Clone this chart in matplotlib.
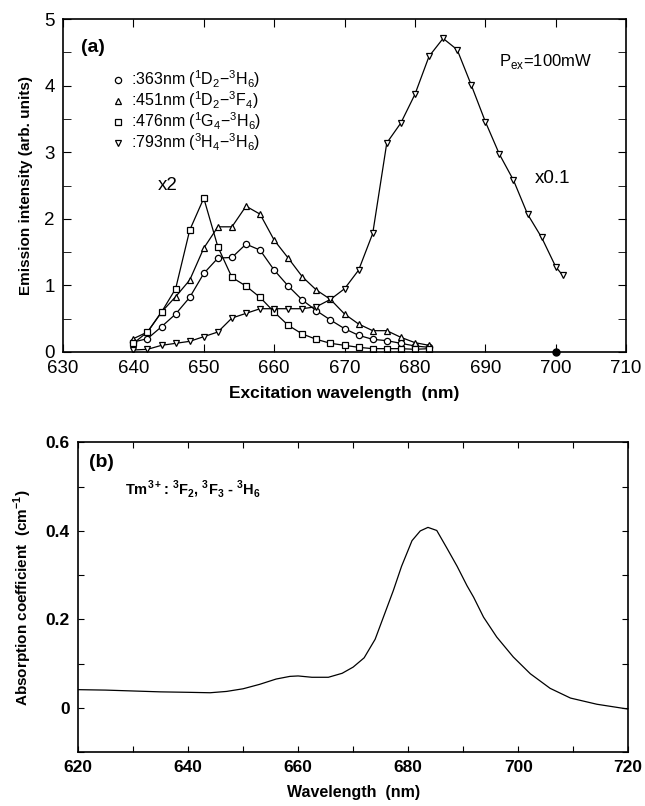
import numpy as np
import matplotlib
matplotlib.use("Agg")
import matplotlib.pyplot as plt
from matplotlib.ticker import MultipleLocator, FixedLocator

plt.rcParams['font.family'] = ['Liberation Sans', 'DejaVu Sans']
plt.rcParams['mathtext.fontset'] = 'custom'
plt.rcParams['mathtext.rm'] = 'Liberation Sans'
plt.rcParams['mathtext.bf'] = 'Liberation Sans:bold'

# (a) excitation spectra
wl_vis = [640, 642, 644, 646, 648, 650, 652, 654, 656, 658, 660,
          662, 664, 666, 668, 670, 672, 674, 676, 678, 680, 682]
em_363 = [0.15, 0.20, 0.38, 0.57, 0.82, 1.18, 1.41, 1.42, 1.62, 1.53, 1.23,
          0.99, 0.78, 0.62, 0.48, 0.35, 0.25, 0.19, 0.17, 0.13, 0.09, 0.07]
em_451 = [0.20, 0.30, 0.60, 0.83, 1.08, 1.56, 1.88, 1.88, 2.19, 2.07, 1.68,
          1.41, 1.13, 0.93, 0.79, 0.57, 0.42, 0.32, 0.32, 0.22, 0.14, 0.10]
em_476 = [0.13, 0.30, 0.60, 0.95, 1.83, 2.31, 1.58, 1.12, 0.99, 0.82, 0.60,
          0.40, 0.27, 0.19, 0.13, 0.10, 0.07, 0.05, 0.05, 0.05, 0.04, 0.05]
wl_ir = [640, 642, 644, 646, 648, 650, 652, 654, 656, 658, 660, 662, 664,
         666, 668, 670, 672, 674, 676, 678, 680, 682, 684, 686, 688, 690,
         692, 694, 696, 698, 700, 701]
em_793 = [0.03, 0.04, 0.10, 0.13, 0.16, 0.23, 0.30, 0.51, 0.58, 0.65, 0.65,
          0.65, 0.65, 0.68, 0.79, 0.95, 1.23, 1.78, 3.14, 3.44, 3.87, 4.44,
          4.71, 4.54, 4.01, 3.46, 2.97, 2.58, 2.07, 1.72, 1.28, 1.15]
dot_x = [700]
dot_y = [0.0]

# (b) absorption spectrum
wl_abs = [620, 625, 630, 635, 640, 644, 647, 650, 653, 656, 658.5, 660,
          662.5, 665.5, 668, 670, 672, 674, 675.5, 677.3, 678.8, 680.7,
          682.2, 683.6, 685.2, 687, 688.9, 690.7, 691.9, 693.7, 696.1,
          699.1, 702.2, 705.8, 709.5, 714.3, 720]
absorb = [0.041, 0.040, 0.038, 0.036, 0.035, 0.034, 0.037, 0.043, 0.053,
          0.065, 0.071, 0.072, 0.069, 0.069, 0.078, 0.092, 0.113, 0.155,
          0.205, 0.265, 0.320, 0.378, 0.400, 0.408, 0.401, 0.362, 0.320,
          0.276, 0.250, 0.205, 0.160, 0.115, 0.077, 0.044, 0.022, 0.008,
          -0.003]

labels_a = [r':363nm ($^1$D$_2$$-$$^3$H$_6$)',
            r':451nm ($^1$D$_2$$-$$^3$F$_4$)',
            r':476nm ($^1$G$_4$$-$$^3$H$_6$)',
            r':793nm ($^3$H$_4$$-$$^3$H$_6$)']

fig = plt.figure(figsize=(6.45, 8.06), dpi=100)
ax1 = fig.add_axes([0.0977, 0.5633, 0.873, 0.413])
ax2 = fig.add_axes([0.121, 0.067, 0.853, 0.384])

mk = dict(color='black', lw=0.9, mfc='white', mec='black', mew=0.9, ms=4.5)
ax1.plot(wl_vis, em_363, marker='o', label=labels_a[0], **mk)
ax1.plot(wl_vis, em_451, marker='^', label=labels_a[1], **mk)
ax1.plot(wl_vis, em_476, marker='s', label=labels_a[2], **dict(mk, ms=4))
ax1.plot(wl_ir, em_793, marker='v', label=labels_a[3], **mk)
ax1.plot(dot_x, dot_y, 'o', color='black', ms=5, clip_on=False)

ax1.set_xlim(630, 710)
ax1.set_ylim(0, 5)
ax1.xaxis.set_major_locator(MultipleLocator(10))
ax1.yaxis.set_major_locator(MultipleLocator(1))
ax1.yaxis.set_minor_locator(MultipleLocator(0.5))
ax1.tick_params(which='both', direction='in', top=True, right=True,
                labelsize=13.5, pad=6)
ax1.tick_params(which='major', length=6)
ax1.tick_params(which='minor', length=6)
ax1.set_xlabel('Excitation wavelength  (nm)', fontsize=12.5,
               fontweight='bold', labelpad=6)
ax1.set_ylabel('Emission intensity (arb. units)', fontsize=11,
               fontweight='bold', labelpad=8)

ax1.text(632.5, 4.58, '(a)', fontsize=14, fontweight='bold', va='center')
ax1.text(691.9, 4.36, r'P$_{\rm ex}$=100mW', fontsize=12, va='center')
ax1.text(643.5, 2.5, 'x2', fontsize=13.5, va='center')
ax1.text(697.0, 2.6, 'x0.1', fontsize=13.5, va='center')

leg = ax1.legend(loc='upper left', bbox_to_anchor=(0.078, 0.87),
                 frameon=False, fontsize=11.5, handlelength=0.6,
                 handletextpad=0.5, labelspacing=-0.05, borderaxespad=0,
                 markerscale=1.0)
for h in leg.legend_handles:
    h.set_linestyle('None')

# (b)
ax2.plot(wl_abs, absorb, color='black', lw=0.9)
ax2.set_xlim(620, 720)
ax2.set_ylim(-0.1, 0.6)
ax2.xaxis.set_major_locator(MultipleLocator(20))
ax2.xaxis.set_minor_locator(MultipleLocator(10))
ax2.yaxis.set_major_locator(FixedLocator([0, 0.2, 0.4, 0.6]))
ax2.yaxis.set_minor_locator(MultipleLocator(0.1))
ax2.yaxis.set_major_formatter(plt.FuncFormatter(
    lambda v, p: '0' if abs(v) < 1e-9 else f'{v:.1f}'))
ax2.tick_params(which='both', direction='in', top=True, right=True,
                length=4, width=0.8, labelsize=12.5, pad=6)
for lab in ax2.get_xticklabels() + ax2.get_yticklabels():
    lab.set_fontweight('bold')
ax2.set_xlabel('Wavelength  (nm)', fontsize=11.5, fontweight='bold',
               labelpad=7)
ax2.set_ylabel(r'Absorption coefficient  (cm$^{\mathbf{-1}}$)',
               fontsize=11, fontweight='bold', labelpad=8)
ax2.text(622, 0.555, '(b)', fontsize=14, fontweight='bold', va='center')
ax2.text(628.5, 0.495,
         r'Tm$^{\mathbf{3+}}$: $^{\mathbf{3}}$F$_{\mathbf{2}}$, '
         r'$^{\mathbf{3}}$F$_{\mathbf{3}}$ - $^{\mathbf{3}}$H$_{\mathbf{6}}$',
         fontsize=10.5, fontweight='bold', va='center')

for ax in (ax1, ax2):
    for sp in ax.spines.values():
        sp.set_linewidth(1.2)

fig.savefig('out.png', dpi=100)
